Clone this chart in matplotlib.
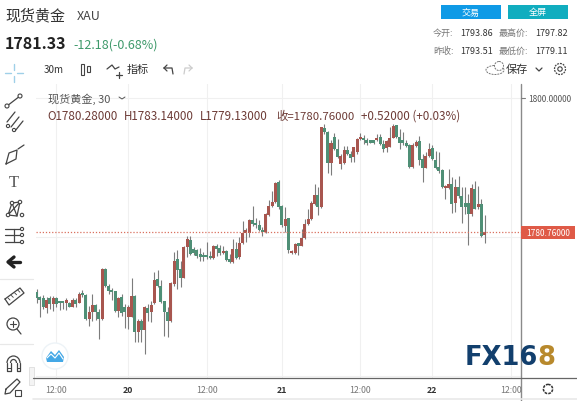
import matplotlib
matplotlib.use("Agg")
import matplotlib.pyplot as plt
from matplotlib.patches import Rectangle, Circle, Ellipse, Arc

plt.rcParams['font.family'] = ['Noto Sans CJK SC', 'DejaVu Sans']

# 30m candles
opens = [1772.1, 1771.4, 1771.3, 1769.8, 1771.3, 1770.4, 1771.3, 1770.6, 1770.6, 1770.5,
         1770.5, 1770.0, 1771.0, 1770.6, 1772.0, 1771.7, 1768.3, 1769.2, 1770.2, 1769.3,
         1768.2, 1775.4, 1773.0, 1772.3, 1772.2, 1769.4, 1771.4, 1770.0, 1768.6, 1768.6,
         1771.6, 1766.4, 1768.0, 1766.6, 1769.8, 1769.2, 1770.6, 1774.0, 1773.0, 1770.9,
         1769.2, 1767.9, 1773.3, 1776.9, 1775.4, 1774.2, 1778.6, 1779.6, 1778.3, 1778.1,
         1777.6, 1777.4, 1777.4, 1777.2, 1777.0, 1778.7, 1778.4, 1777.7, 1778.0, 1776.7,
         1776.4, 1778.3, 1777.1, 1779.1, 1780.6, 1780.6, 1782.4, 1782.0, 1781.7, 1780.9,
         1780.7, 1783.2, 1784.5, 1785.0, 1787.9, 1784.5, 1781.6, 1782.7, 1777.7, 1777.7,
         1779.0, 1778.8, 1779.9, 1781.9, 1782.6, 1784.8, 1786.0, 1784.3, 1795.7, 1795.1,
         1790.7, 1794.4, 1792.7, 1790.5, 1790.6, 1792.5, 1791.9, 1791.5, 1792.2, 1794.1,
         1794.3, 1793.9, 1793.8, 1793.8, 1793.9, 1794.4, 1793.4, 1792.8, 1793.0, 1794.3,
         1796.1, 1794.4, 1793.9, 1793.6, 1793.3, 1790.1, 1793.1, 1793.8, 1791.3, 1790.0,
         1791.6, 1792.8, 1791.1, 1790.1, 1789.7, 1787.1, 1787.1, 1787.6, 1784.9, 1787.2,
         1785.9, 1784.9, 1784.9, 1783.3, 1786.9, 1784.3, 1784.8, 1780.28]
highs = [1772.6, 1771.6, 1771.7, 1771.4, 1771.5, 1771.5, 1771.4, 1770.9, 1770.9, 1771.2,
         1770.7, 1771.2, 1771.2, 1772.1, 1772.4, 1771.8, 1770.1, 1771.8, 1770.4, 1769.7,
         1775.5, 1775.5, 1773.3, 1772.7, 1772.3, 1771.4, 1771.8, 1770.4, 1770.2, 1774.1,
         1771.7, 1768.2, 1768.2, 1770.1, 1770.4, 1770.9, 1775.0, 1775.3, 1773.8, 1770.9,
         1769.9, 1773.5, 1777.8, 1778.1, 1776.6, 1778.8, 1780.1, 1780.1, 1778.6, 1778.3,
         1778.5, 1777.8, 1779.3, 1778.0, 1778.9, 1779.0, 1778.9, 1778.8, 1778.1, 1777.6,
         1779.7, 1779.3, 1780.0, 1782.3, 1781.3, 1782.6, 1784.5, 1782.7, 1782.4, 1781.4,
         1783.5, 1785.4, 1786.7, 1788.0, 1788.2, 1784.6, 1784.3, 1782.7, 1778.1, 1779.2,
         1779.1, 1781.2, 1782.6, 1784.0, 1785.2, 1787.6, 1787.2, 1795.9, 1796.3, 1795.3,
         1793.9, 1794.9, 1794.1, 1791.9, 1793.1, 1793.1, 1792.4, 1793.0, 1794.2, 1794.9,
         1794.7, 1794.2, 1793.9, 1794.0, 1794.8, 1794.8, 1793.9, 1794.0, 1795.9, 1796.2,
         1796.1, 1795.5, 1795.1, 1794.0, 1793.4, 1793.5, 1794.0, 1794.5, 1792.0, 1792.2,
         1793.5, 1793.3, 1792.4, 1792.2, 1789.8, 1787.5, 1789.8, 1788.6, 1788.4, 1788.8,
         1787.2, 1787.2, 1786.2, 1787.6, 1788.1, 1787.4, 1785.5, 1783.14]
lows = [1770.5, 1768.6, 1769.7, 1769.1, 1769.7, 1769.4, 1769.9, 1769.5, 1769.7, 1769.5,
        1769.9, 1769.9, 1769.9, 1770.5, 1771.4, 1768.1, 1767.2, 1767.9, 1768.1, 1765.3,
        1768.1, 1772.8, 1771.8, 1771.0, 1769.3, 1768.6, 1768.7, 1766.9, 1766.8, 1768.5,
        1765.0, 1765.0, 1765.0, 1763.2, 1767.9, 1767.8, 1770.4, 1772.9, 1770.6, 1765.8,
        1765.6, 1767.8, 1773.0, 1772.6, 1772.8, 1774.1, 1777.1, 1777.5, 1777.4, 1777.0,
        1776.6, 1776.6, 1776.8, 1776.9, 1776.9, 1777.3, 1777.4, 1777.6, 1776.6, 1776.3,
        1776.3, 1776.9, 1776.9, 1779.0, 1779.3, 1780.0, 1781.6, 1781.3, 1780.9, 1780.1,
        1780.6, 1783.1, 1784.4, 1784.9, 1784.1, 1781.4, 1780.7, 1777.7, 1777.6, 1777.6,
        1777.4, 1778.7, 1779.7, 1781.7, 1782.5, 1784.6, 1783.2, 1784.2, 1794.8, 1789.2,
        1788.9, 1792.5, 1791.4, 1789.8, 1790.5, 1791.8, 1790.8, 1790.8, 1792.0, 1793.9,
        1793.4, 1793.3, 1793.5, 1793.4, 1793.8, 1793.3, 1792.2, 1792.2, 1792.9, 1794.2,
        1794.2, 1792.7, 1793.3, 1792.9, 1790.0, 1790.0, 1793.0, 1790.4, 1787.9, 1789.9,
        1791.5, 1791.1, 1789.8, 1789.2, 1787.1, 1785.5, 1786.9, 1783.5, 1783.6, 1785.7,
        1782.0, 1783.3, 1778.9, 1783.1, 1784.0, 1784.1, 1780.0, 1779.13]
closes = [1771.2, 1771.0, 1769.9, 1771.0, 1770.4, 1771.3, 1770.4, 1770.5, 1770.5, 1771.0,
          1770.0, 1771.0, 1770.4, 1771.8, 1771.7, 1768.2, 1769.2, 1770.2, 1769.3, 1768.2,
          1775.4, 1773.0, 1772.2, 1772.1, 1769.4, 1771.2, 1769.1, 1769.3, 1769.9, 1771.6,
          1766.4, 1768.0, 1766.6, 1769.9, 1769.1, 1770.2, 1773.9, 1773.0, 1770.7, 1769.2,
          1767.9, 1773.4, 1776.6, 1775.3, 1774.2, 1778.6, 1779.8, 1777.6, 1777.7, 1777.3,
          1777.2, 1777.2, 1777.1, 1777.0, 1778.7, 1778.3, 1777.7, 1778.0, 1776.7, 1776.5,
          1778.3, 1777.0, 1779.1, 1780.6, 1781.1, 1782.4, 1781.9, 1781.7, 1781.1, 1780.7,
          1783.3, 1784.5, 1785.1, 1787.8, 1784.4, 1781.7, 1782.6, 1778.2, 1778.0, 1779.0,
          1778.8, 1779.9, 1781.9, 1782.6, 1784.9, 1786.0, 1784.3, 1795.8, 1795.1, 1790.7,
          1793.6, 1792.7, 1791.5, 1791.6, 1792.5, 1792.0, 1791.4, 1792.9, 1794.1, 1794.3,
          1793.9, 1793.5, 1793.6, 1793.6, 1794.3, 1793.4, 1792.7, 1793.8, 1794.3, 1796.0,
          1794.4, 1793.6, 1793.5, 1793.1, 1790.1, 1793.3, 1793.7, 1791.1, 1790.0, 1791.6,
          1792.7, 1791.2, 1790.0, 1789.5, 1787.2, 1787.4, 1787.6, 1784.8, 1787.2, 1785.9,
          1784.3, 1784.3, 1783.3, 1787.1, 1784.1, 1784.8, 1780.1, 1780.76]

tick_bars = [6, 28, 52, 75, 99, 121, 145]
tick_labels = ["12:00", "20", "12:00", "21", "12:00", "22", "12:00"]
last_price = 1780.76
price_ticks = [1800]

UP = "#a8564f"
DOWN = "#4f8f76"
WICK = "#7c7c7c"

W, H = 577, 402
fig = plt.figure(figsize=(W / 100, H / 100), dpi=100, facecolor="white")

# chart area in pixels
L, R, T, B = 36, 521, 85, 379
ax = fig.add_axes([L / W, 1 - B / H, (R - L) / W, (B - T) / H])
px_bar = 3.27
ax.set_xlim((L - 36.7) / px_bar, (R - 36.7) / px_bar)
ax.set_ylim(1800 - (B - 99) * 0.1437, 1800 + (99 - T) * 0.1437)

ax.set_axisbelow(True)
ax.grid(True, color="#f0f0f0", lw=0.8)
ax.set_xticks(tick_bars)
ax.set_yticks([1760, 1780, 1800])
ax.tick_params(length=0, labelbottom=False, labelleft=False)
for s in ax.spines.values():
    s.set_visible(False)

for i in range(len(opens)):
    up = closes[i] >= opens[i]
    ax.vlines(i, lows[i], highs[i], color=WICK, lw=0.8, zorder=2)
    h = max(abs(closes[i] - opens[i]), 0.3)
    ax.bar(i, h, bottom=min(opens[i], closes[i]), width=0.92,
           color=UP if up else DOWN, lw=0, zorder=3)

ax.axhline(last_price, color="#d9705f", lw=0.9, ls=(0, (1, 1.5)), zorder=4)

# overlay in pixel coordinates for the page furniture
ov = fig.add_axes([0, 0, 1, 1], facecolor="none")
ov.set_xlim(0, W)
ov.set_ylim(H, 0)
ov.axis("off")


def txt(x, y, s, size=7, color="#333333", ha="left", **kw):
    ov.text(x, y, s, fontsize=size, color=color, ha=ha, va="center", **kw)


def line(xs, ys, color="#444444", lw=0.9, **kw):
    ov.plot(xs, ys, color=color, lw=lw, solid_capstyle="round", **kw)


def dot(x, y, r=2):
    ov.add_patch(Circle((x, y), r, fc="white", ec="#444444", lw=0.8, zorder=5))


# price and time axes
line([R, R], [85, 402], color="#8a8a8a", lw=1)
line([L - 3, W], [B, B], color="#666666", lw=0.9)
line([33, W], [400, 400], color="#e9e9e9", lw=1.2)
line([R, R + 4], [99, 99], color="#7d7d7d", lw=0.8)
for p in price_ticks:
    txt(528, 99, f"{p:.5f}", size=6, color="#555555")
ov.add_patch(Rectangle((R, 227), 54, 13, fc="#df5a47", ec="none", zorder=5))
txt(548, 233.5, f"{last_price:.5f}", size=6, color="white", ha="center", zorder=6)
for b, lab in zip(tick_bars, tick_labels):
    x = 36.7 + b * px_bar
    bold = ":" not in lab
    txt(x, 391, lab, size=6.3, ha="center", color="#333333" if bold else "#777777",
        fontweight="bold" if bold else "normal")

# header
txt(5, 16, "现货黄金", size=10.8, color="#333333")
txt(77, 17, "XAU", size=9, color="#444444")
txt(5, 44, "1781.33", size=11.5, color="#222222", fontweight="bold")
txt(73, 45, "-12.18(-0.68%)", size=9, color="#3f9a6b")
ov.add_patch(Rectangle((441, 6), 60, 14, fc="#0f9ae6", ec="none"))
ov.add_patch(Rectangle((508, 6), 60, 14, fc="#11adbf", ec="none"))
txt(471, 13, "交易", size=6.5, color="white", ha="center")
txt(538, 13, "全屏", size=6.5, color="white", ha="center")
txt(433, 33, "今开:", size=6.5, color="#777777")
txt(460, 33, "1793.86", size=6.5)
txt(499, 33, "最高价:", size=6.5, color="#777777")
txt(535, 33, "1797.82", size=6.5)
txt(433, 51, "昨收:", size=6.5, color="#777777")
txt(460, 51, "1793.51", size=6.5)
txt(499, 51, "最低价:", size=6.5, color="#777777")
txt(535, 51, "1779.11", size=6.5)

# toolbar
txt(44, 70, "30m", size=7, color="#333333")
ov.add_patch(Rectangle((81, 65), 3, 11, fc="white", ec="#444444", lw=0.8))
ov.add_patch(Rectangle((87, 67), 3, 6, fc="white", ec="#444444", lw=0.8))
line([107, 112, 115, 119], [70, 66, 70, 68])
line([116, 122], [76, 76])
line([119, 119], [73, 79])
txt(127, 70, "指标", size=8)
line([164, 172, 173], [69, 69, 75])
line([164, 167], [69, 66])
line([164, 167], [69, 72])
line([192, 185, 184], [69, 69, 75], color="#cccccc")
line([192, 189], [69, 66], color="#cccccc")
line([192, 189], [69, 72], color="#cccccc")
txt(506, 70, "保存", size=8)
line([536, 539, 542], [69, 72, 69])
ov.add_patch(Ellipse((495, 71), 18, 9, fc="white", ec="#777777", lw=0.7, ls=(0, (2, 1))))
ov.add_patch(Circle((499, 67), 4.5, fc="white", ec="#777777", lw=0.7, ls=(0, (2, 1))))
ov.add_patch(Circle((560, 70), 5.5, fc="white", ec="#444444", lw=0.9, ls=(0, (1.5, 0.8))))
ov.add_patch(Circle((560, 70), 2.2, fc="white", ec="#444444", lw=0.8))

# legend text
txt(48, 99, "现货黄金, 30", size=8, color="#555555")
line([119, 122, 125], [98, 100, 98], color="#555555", lw=0.7)
legend_col = "#6d3b36"
txt(47, 116, "O1780.28000", size=8.4, color=legend_col)
txt(124, 116, "H1783.14000", size=8.4, color=legend_col)
txt(200, 116, "L1779.13000", size=8.4, color=legend_col)
txt(276, 116, "收=1780.76000", size=8.2, color=legend_col)
txt(361, 116, "+0.52000 (+0.03%)", size=8.4, color=legend_col)

# left drawing tools
for xs, ys in [([5, 11], [74, 74]), ([17, 23], [74, 74]), ([14, 14], [65, 71]), ([14, 14], [77, 83])]:
    line(xs, ys, color="#9fd0e8", lw=1)
line([7, 20], [107, 97])
dot(7, 107)
dot(20, 97)
line([7, 15], [123, 113])
line([11, 19], [128, 118])
line([15, 23], [132, 122])
dot(8, 127, 1.6)
dot(14, 131, 1.6)
line([6, 9, 17, 16, 6], [165, 154, 151, 160, 165])
line([18, 24], [150, 146])
txt(14, 183, "T", size=12, color="#555555", ha="center", family="Liberation Serif")
line([8, 12, 20, 17, 8, 20], [216, 204, 203, 217, 216, 203])
line([12, 17], [204, 217])
for x, y in [(8, 216), (12, 204), (20, 203), (22, 216)]:
    dot(x, y, 1.7)
for y in [230, 236, 243]:
    line([5, 20], [y, y])
    dot(22, y, 1.6)
line([14, 14], [230, 243])
line([9, 20], [263, 263], color="#222222", lw=2.4)
line([14, 8, 14], [258, 263, 268], color="#222222", lw=2.4)
line([0, 33], [280, 280], color="#e8e8e8")
line([5, 20, 24, 9, 5], [300, 289, 294, 306, 300])
for k in range(4):
    line([8 + k * 3.3, 10 + k * 3.3], [299 - k * 2.6, 301 - k * 2.6], lw=0.6)
ov.add_patch(Circle((13, 325), 6, fc="white", ec="#444444", lw=0.9))
line([17, 21], [330, 335])
line([10, 16], [325, 325], lw=0.8)
line([13, 13], [322, 328], lw=0.8)
line([0, 33], [345, 345], color="#e8e8e8")

# magnet
ov.add_patch(Arc((13.5, 364), 13, 14, theta1=180, theta2=360, ec="#444444", lw=0.9))
ov.add_patch(Arc((13.5, 364), 6, 7, theta1=180, theta2=360, ec="#444444", lw=0.9))
line([7, 7, 10.5, 10.5], [364, 372, 372, 364])
line([16.5, 16.5, 20, 20], [364, 372, 372, 364])
line([7, 10.5], [369, 369], lw=0.7)
line([16.5, 20], [369, 369], lw=0.7)

line([6, 17, 20, 10, 5, 6], [390, 380, 383, 394, 395, 390])
ov.add_patch(Rectangle((15, 391), 6, 6, fc="white", ec="#444444", lw=0.8, zorder=4))

# collapse handle and settings gear
ov.add_patch(Rectangle((29, 368), 5, 18, fc="#f4f4f4", ec="#dddddd", lw=0.6))
ov.add_patch(Circle((548, 390), 4.6, fc="white", ec="#333333", lw=1.1, ls=(0, (1.8, 0.7)), zorder=5))

# logo circle and watermark
ov.add_patch(Circle((55, 357), 13, fc="white", ec="#edf3f7", lw=1))
ov.fill([46, 51, 55, 59, 64, 63, 47], [359, 352, 356, 351, 358, 363, 363], color="#44a8e6", lw=0)
line([47, 51, 55, 59, 63], [359, 355, 359, 354, 360], color="white", lw=0.8)
txt(465, 358, "FX16", size=18.5, color="#123f6d", fontweight="bold", family="DejaVu Sans")
txt(537, 358, "8", size=18.5, color="#b8892c", fontweight="bold", family="DejaVu Sans")

fig.savefig("out.png", dpi=100)
